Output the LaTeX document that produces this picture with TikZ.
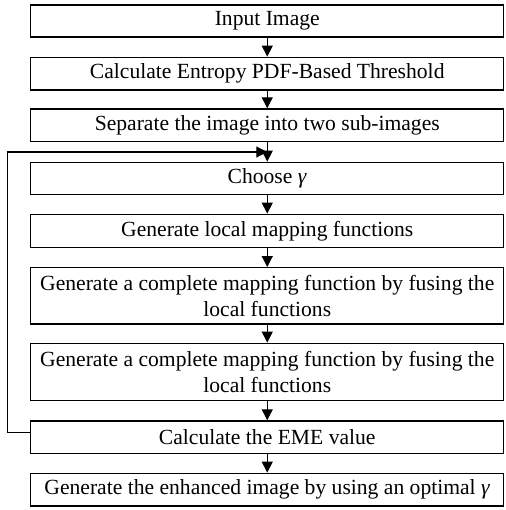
\documentclass[tikz,border=0pt]{standalone}
\usepackage{fontspec}
\setmainfont{Liberation Serif}
\usetikzlibrary{arrows.meta}
\begin{document}
\begin{tikzpicture}[x=1pt,y=-1pt,
  box/.style={draw, line width=1.4pt, inner sep=0pt, minimum width=473pt, align=center,
    font=\fontsize{21.6}{25.5}\selectfont},
  arr/.style={line width=1.2pt, -{Triangle[length=11pt,width=11pt]}}]
\useasboundingbox (0,0) rectangle (505,510);
\node[box, minimum height=32pt] (b1) at (267.25,21) {Input Image};
\node[box, minimum height=32.7pt] (b2) at (267.25,73.65) {Calculate Entropy PDF-Based Threshold};
\node[box, minimum height=32.7pt] (b3) at (267.25,125.35) {Separate the image into two sub-images};
\node[box, minimum height=32pt] (b4) at (267.25,178.3) {Choose \textit{γ}};
\node[box, minimum height=33pt] (b5) at (267.25,230.8) {Generate local mapping functions};
\node[box, minimum height=56.3pt] (b6) at (267.25,295.85) {Generate a complete mapping function by fusing the\\local functions};
\node[box, minimum height=57.4pt] (b7) at (267.25,372) {Generate a complete mapping function by fusing the\\local functions};
\node[box, minimum height=32.3pt] (b8) at (267.25,437.15) {Calculate the EME value};
\node[box, minimum height=32.7pt] (b9) at (267.25,489.65) {Generate the enhanced image by using an optimal \textit{γ}};
\coordinate (j) at (267.25,152);
\draw[arr] (b1) -- (b2);
\draw[arr] (b2) -- (b3);
\draw[arr] (b3) -- (b4);
\draw[arr] (b4) -- (b5);
\draw[arr] (b5) -- (b6);
\draw[arr] (b6) -- (b7);
\draw[arr] (b7) -- (b8);
\draw[arr] (b8) -- (b9);
\draw[arr] ([yshift=5pt]b8.west) -- ++(-22.5,0) |- (j);
\end{tikzpicture}
\end{document}
